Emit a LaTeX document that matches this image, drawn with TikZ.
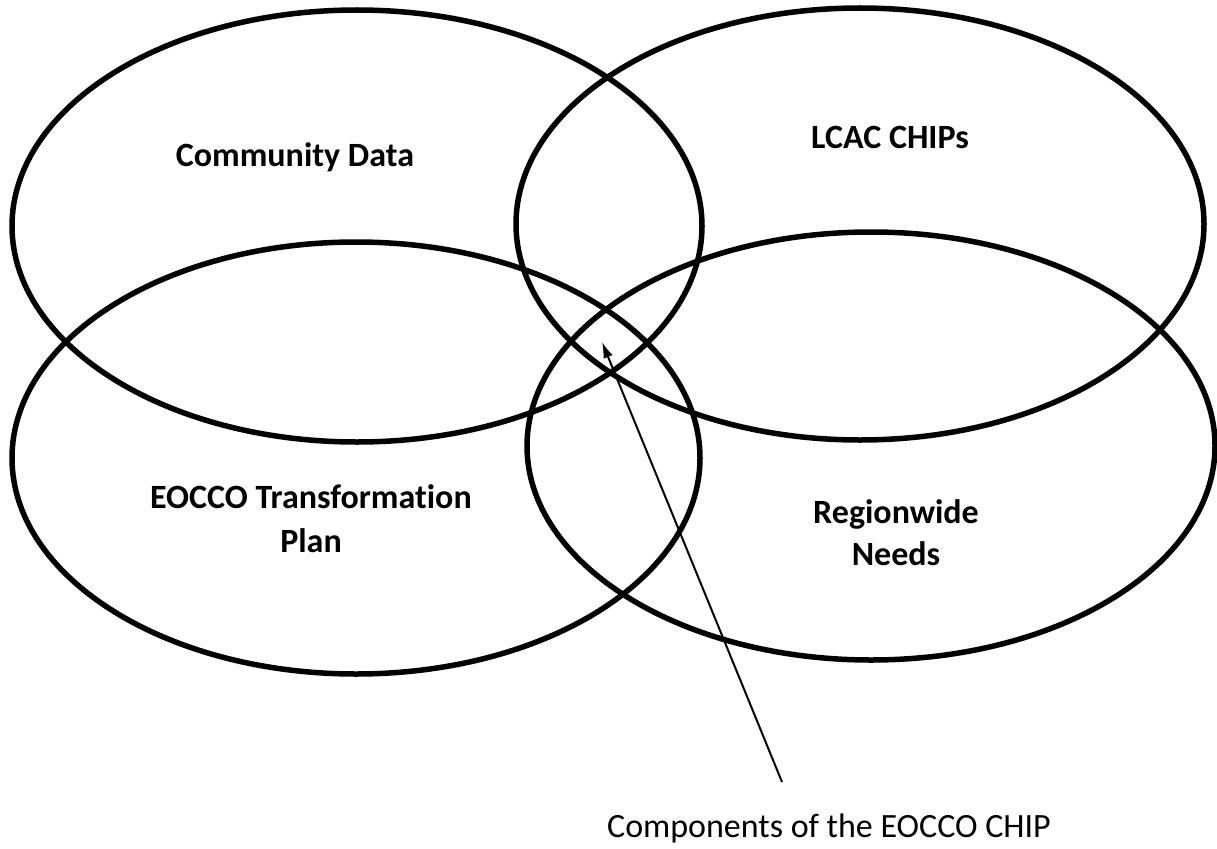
\documentclass[tikz,border=0pt]{standalone}
\usepackage{fontspec}
\setmainfont{Carlito}[Ligatures=NoCommon]
\usetikzlibrary{arrows.meta}
\tikzset{
  venn/.style={line width=5.5pt, draw=black},
  lbl/.style={font=\fontsize{34}{44}\selectfont\bfseries, align=center, inner sep=0pt, anchor=base},
  note/.style={font=\fontsize{34}{40}\selectfont, inner sep=0pt, anchor=base},
  pointer/.style={line width=2pt, -{Latex[length=16pt,width=10pt]}}
}
\begin{document}
\begin{tikzpicture}[x=1pt,y=-1pt]
\useasboundingbox (0,0) rectangle (1217,848);
\draw[venn] (357,226) ellipse [x radius=345, y radius=216];
\draw[venn] (860,224) ellipse [x radius=344, y radius=216];
\draw[venn] (356,458) ellipse [x radius=344, y radius=216];
\draw[venn] (871,446) ellipse [x radius=344, y radius=214];
\node[lbl] (cd) at (295,166) {Community Data};
\node[lbl] (lcac) at (890,148) {LCAC CHIPs};
\node[lbl] (eocco) at (311,508) {EOCCO Transformation};
\node[lbl] (plan) at (311,552) {Plan};
\node[lbl] (reg) at (896,523) {Regionwide};
\node[lbl] (needs) at (896,565) {Needs};
\node[note] (comp) at (829,837) {Components of the EOCCO CHIP};
\coordinate (tail) at (782,782);
\coordinate (tip) at (602,342);
\draw[pointer] (tail) -- (tip);
\end{tikzpicture}
\end{document}
